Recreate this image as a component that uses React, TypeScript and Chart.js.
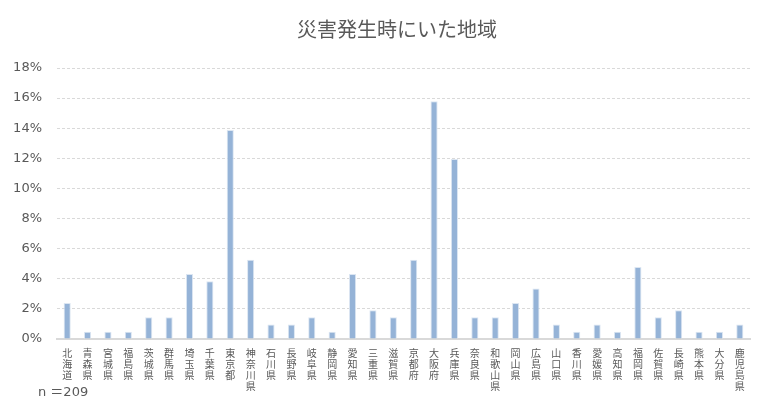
import { useEffect, useRef } from "react";
import Chart from "chart.js/auto";

const prefectures = [
  "北海道", "青森県", "宮城県", "福島県", "茨城県", "群馬県", "埼玉県", "千葉県",
  "東京都", "神奈川県", "石川県", "長野県", "岐阜県", "静岡県", "愛知県", "三重県",
  "滋賀県", "京都府", "大阪府", "兵庫県", "奈良県", "和歌山県", "岡山県", "広島県",
  "山口県", "香川県", "愛媛県", "高知県", "福岡県", "佐賀県", "長崎県", "熊本県",
  "大分県", "鹿児島県",
];

// percentage of respondents (n = 209)
const shares = [
  2.39, 0.48, 0.48, 0.48, 1.44, 1.44, 4.31, 3.83,
  13.88, 5.26, 0.96, 0.96, 1.44, 0.48, 4.31, 1.91,
  1.44, 5.26, 15.79, 11.96, 1.44, 1.44, 2.39, 3.35,
  0.96, 0.48, 0.96, 0.48, 4.78, 1.44, 1.91, 0.48,
  0.48, 0.96,
];

const yTicks = [0, 2, 4, 6, 8, 10, 12, 14, 16, 18];

const FONT = "'Noto Sans CJK JP', 'DejaVu Sans', sans-serif";
const NUM_FONT = "'DejaVu Sans', 'Noto Sans CJK JP', sans-serif";

export default function App() {
  const canvasRef = useRef<HTMLCanvasElement | null>(null);

  useEffect(() => {
    const canvas = canvasRef.current;
    if (!canvas) return;

    const chart = new Chart(canvas, {
      type: "bar",
      data: {
        // one character per line -> vertical labels
        labels: prefectures.map((p) => p.split("")),
        datasets: [
          {
            data: shares,
            backgroundColor: "#95b3d7",
            borderColor: "#dce6f2",
            borderWidth: 1,
            barPercentage: 0.35,
            categoryPercentage: 1,
          },
        ],
      },
      options: {
        responsive: false,
        animation: false,
        layout: { padding: { left: 12, right: 0, top: 0, bottom: 0 } },
        plugins: {
          legend: { display: false },
          tooltip: { enabled: false },
          title: {
            display: true,
            text: "災害発生時にいた地域",
            color: "#595959",
            font: { family: FONT, size: 20, weight: "normal" },
            padding: { top: 17, bottom: 27 },
          },
        },
        scales: {
          x: {
            grid: { display: false },
            border: { display: true, color: "#d9d9d9", width: 2 },
            ticks: {
              autoSkip: false,
              maxRotation: 0,
              minRotation: 0,
              color: "#595959",
              padding: 1,
              font: { family: FONT, size: 10, lineHeight: 1.08 },
            },
            afterFit: (scale) => {
              scale.height = 64;
            },
          },
          y: {
            min: 0,
            max: 18,
            afterBuildTicks: (scale) => {
              scale.ticks = yTicks.map((v) => ({ value: v }));
            },
            grid: { color: "#d9d9d9", drawTicks: false },
            border: { display: false, dash: [3, 2] },
            ticks: {
              color: "#595959",
              padding: 15,
              font: { family: NUM_FONT, size: 13 },
              callback: (v) => `${v}%`,
            },
            afterFit: (scale) => {
              scale.width = 45;
            },
          },
          // empty right-hand axis: only keeps the gap right of the plot
          yRight: {
            position: "right",
            grid: { display: false },
            border: { display: false },
            ticks: { display: false },
            afterFit: (scale) => {
              scale.width = 32;
            },
          },
        },
      },
    });

    return () => chart.destroy();
  }, []);

  return (
    <div style={{ position: "fixed", left: 0, top: 0, width: 782, height: 403, background: "#fff" }}>
      <canvas ref={canvasRef} width={782} height={403} />
      <div
        style={{
          position: "absolute",
          left: 38,
          top: 384,
          fontFamily: NUM_FONT,
          fontSize: 13,
          color: "#595959",
          lineHeight: "16px",
        }}
      >
        n ＝209
      </div>
    </div>
  );
}
